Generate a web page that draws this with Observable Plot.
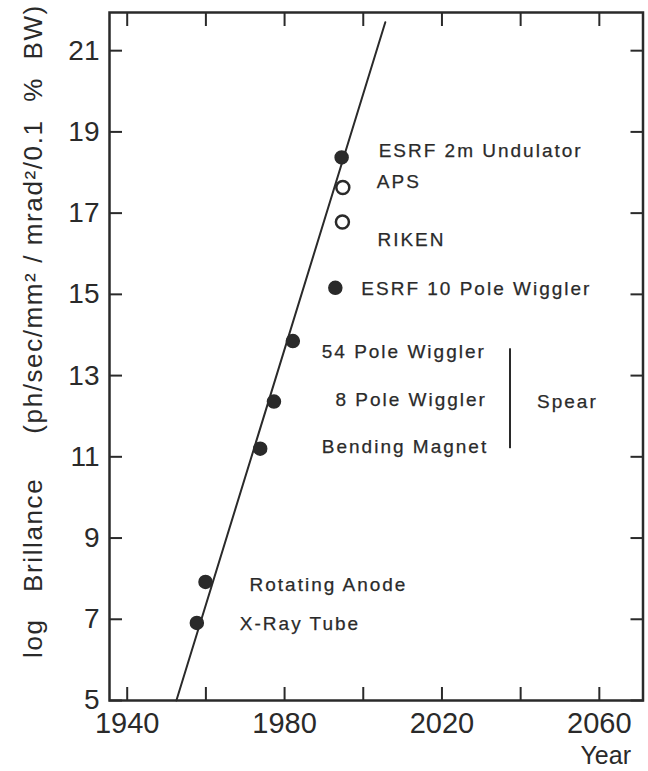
<!DOCTYPE html>
<html>
<head>
<meta charset="utf-8">
<script src="https://cdn.jsdelivr.net/npm/d3@7"></script>
<script src="https://cdn.jsdelivr.net/npm/@observablehq/plot@0.6"></script>
<style>
  html, body { margin: 0; padding: 0; background: #ffffff; }
  #chart svg { display: block; }
</style>
</head>
<body>
<div id="chart"></div>
<script>
// ---- data ----
const sources = ["X-Ray Tube", "Rotating Anode", "Bending Magnet", "8 Pole Wiggler", "54 Pole Wiggler",
                 "ESRF 10 Pole Wiggler", "RIKEN", "APS", "ESRF 2m Undulator"];
const years = [1957.7, 1959.9, 1973.8, 1977.3, 1982.1, 1992.9, 1994.7, 1994.8, 1994.5];
const logBrilliance = [6.91, 7.92, 11.20, 12.36, 13.85, 15.16, 16.78, 17.63, 18.37];
const sourceKind = ["filled", "filled", "filled", "filled", "filled", "filled", "open", "open", "filled"];

const trendYears = [1952.5, 2005.6];
const trendValues = [5, 21.7];

const groupNames = ["Spear"];
const groupYears = [2037.3];
const groupTop = [13.66];
const groupBottom = [11.2];

const xTicks = [1940, 1960, 1980, 2000, 2020, 2040, 2060];
const xTickLabels = [1940, 1980, 2020, 2060];
const yTicks = [5, 7, 9, 11, 13, 15, 17, 19, 21];

const xTitle = "Year";
const yTitle = "log\u00a0\u00a0\u00a0Brillance\u00a0\u00a0\u00a0\u00a0\u00a0(ph/sec/mm\u00b2 / mrad\u00b2/0.1\u00a0\u00a0%\u00a0\u00a0BW)";

// ---- layout / style (not data) ----
const ink = "#2a2a2a";
const font = "'Liberation Sans', Arial, Helvetica, sans-serif";
const labelLayout = {
  "X-Ray Tube":           {dx: 43,  dy: 1,  anchor: "start"},
  "Rotating Anode":       {dx: 44,  dy: 3,  anchor: "start"},
  "Bending Magnet":       {dx: 228, dy: -2, anchor: "end"},
  "8 Pole Wiggler":       {dx: 213, dy: -2, anchor: "end"},
  "54 Pole Wiggler":      {dx: 193, dy: 11, anchor: "end"},
  "ESRF 10 Pole Wiggler": {dx: 26,  dy: 1,  anchor: "start"},
  "RIKEN":                {dx: 35,  dy: 18, anchor: "start"},
  "APS":                  {dx: 34,  dy: -6, anchor: "start"},
  "ESRF 2m Undulator":    {dx: 37,  dy: -7, anchor: "start"}
};

const points = sources.map((s, i) => ({source: s, year: years[i], value: logBrilliance[i], kind: sourceKind[i]}));
const trend = trendYears.map((y, i) => ({year: y, value: trendValues[i]}));
const groups = groupNames.map((g, i) => ({name: g, year: groupYears[i], top: groupTop[i], bottom: groupBottom[i]}));

const labelMarks = points.map(p => {
  const L = labelLayout[p.source];
  return Plot.text([p], {
    x: "year", y: "value", text: "source",
    dx: L.dx, dy: L.dy, textAnchor: L.anchor,
    fontSize: 19, fill: ink, stroke: ink, strokeWidth: 0.25, fontFamily: font
  });
});

const chart = Plot.plot({
  width: 648,
  height: 771,
  marginLeft: 109,
  marginRight: 5.5,
  marginTop: 12,
  marginBottom: 71,
  style: {fontFamily: font, color: ink, background: "#ffffff"},
  x: {domain: [1935.5, 2071.1], label: null},
  y: {domain: [5, 21.94], label: null},
  marks: [
    Plot.axisX(xTicks, {anchor: "bottom", tickSize: -13, tickFormat: () => "", strokeWidth: 2, label: null}),
    Plot.axisX(xTicks, {anchor: "top", tickSize: -13, tickFormat: () => "", strokeWidth: 2, label: null}),
    Plot.axisY(yTicks, {anchor: "left", tickSize: -13, tickFormat: () => "", strokeWidth: 2, label: null}),
    Plot.axisY(yTicks, {anchor: "right", tickSize: -13, tickFormat: () => "", strokeWidth: 2, label: null}),
    Plot.axisX(xTickLabels, {anchor: "bottom", tickSize: 0, tickPadding: 12, fontSize: 29, label: null, tickFormat: d => String(d)}),
    Plot.axisY(yTicks, {anchor: "left", tickSize: 0, tickPadding: 10, fontSize: 28, label: null}),
    Plot.frame({stroke: ink, strokeWidth: 2.5}),
    Plot.line(trend, {x: "year", y: "value", stroke: ink, strokeWidth: 2}),
    Plot.ruleX(groups, {x: "year", y1: "top", y2: "bottom", stroke: ink, strokeWidth: 2}),
    Plot.text(groups, {x: "year", y: d => (d.top + d.bottom) / 2, text: "name", dx: 27, dy: 3, textAnchor: "start",
      fontSize: 19, fill: ink, stroke: ink, strokeWidth: 0.25, fontFamily: font}),
    Plot.dot(points.filter(p => p.kind === "filled"), {x: "year", y: "value", r: 6.5, fill: ink, stroke: ink}),
    Plot.dot(points.filter(p => p.kind === "open"), {x: "year", y: "value", r: 6.5, fill: "#ffffff", stroke: ink, strokeWidth: 2.5}),
    ...labelMarks,
    Plot.text([yTitle], {frameAnchor: "left", rotate: -90, dx: -76, dy: -25.5, textAnchor: "middle", lineAnchor: "middle",
      fontSize: 26, fill: ink, fontFamily: font}),
    Plot.text([xTitle], {frameAnchor: "bottom-right", dx: -12, dy: 55, textAnchor: "end", lineAnchor: "middle",
      fontSize: 25, fill: ink, fontFamily: font})
  ]
});

// letter spacing to match the wide typewritten look of the annotations
const annotationTexts = new Set([...sources, ...groupNames]);
d3.select(chart).selectAll("text").each(function() {
  const t = this.textContent;
  if (annotationTexts.has(t)) this.style.letterSpacing = "2px";
  else if (t === yTitle) this.style.letterSpacing = "1.6px";
});
document.getElementById("chart").appendChild(chart);
</script>
</body>
</html>
